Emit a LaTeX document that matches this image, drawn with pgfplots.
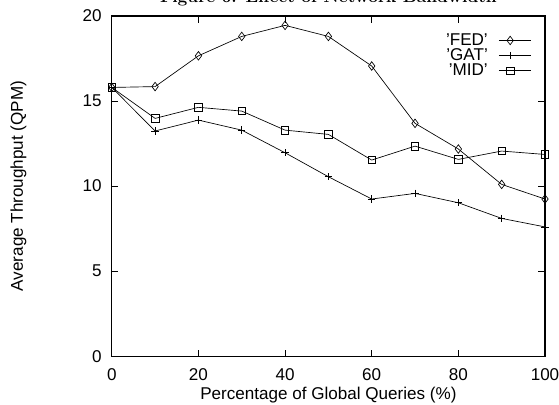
\documentclass[border=0pt]{standalone}
\usepackage{pgfplots}
\pgfplotsset{compat=1.18}
\usepackage{fontspec}
\setmainfont{Liberation Sans}
\newfontfamily\titlefont{Latin Modern Roman}

\begin{document}
\begin{tikzpicture}
\begin{axis}[
    name=main,
    scale only axis,
    width=324.75pt, height=255pt,
    xmin=0, xmax=100, ymin=0, ymax=20,
    xtick={0,20,40,60,80,100},
    ytick={0,5,10,15,20},
    tick align=inside,
    major tick length=5pt,
    tick style={black, line width=0.6pt},
    axis line style={line width=0.8pt},
    font=\fontsize{12.8}{15}\selectfont,
    /pgf/number format/assume math mode=true,
    xticklabel style={yshift=-6pt},
    yticklabel style={xshift=-4pt},
    xlabel={Percentage of Global Queries (\%)},
    ylabel={Average Throughput (QPM)},
    xlabel style={at={(axis description cs:0.5,0)}, anchor=center, yshift=-29pt},
    ylabel style={at={(axis description cs:-0.2155,0.5)}, anchor=center},
    legend style={draw=none, fill=none, at={(rel axis cs:1,1)}, anchor=north east,
        xshift=-7pt, yshift=-9pt, font=\fontsize{12.8}{15}\selectfont,
        row sep=-3pt, /tikz/every odd column/.append style={column sep=6pt}},
    legend cell align=right,
    legend plot pos=right,
    legend image code/.code={
        \draw[mark repeat=2, mark phase=2, #1]
            plot coordinates {(0cm,0cm) (0.3cm,0cm) (0.85cm,0cm)};},
    every axis plot/.append style={black, line width=0.5pt},
]
\addplot[mark=diamond, mark size=3.2pt, mark options={solid, fill=white}] coordinates {
    (0,15.8) (10,15.85) (20,17.66) (30,18.8) (40,19.45) (50,18.8)
    (60,17.06) (70,13.69) (80,12.18) (90,10.1) (100,9.24)
};
\addlegendentry{'FED'}
\addplot[mark=+, mark size=2.8pt] coordinates {
    (0,15.8) (10,13.24) (20,13.88) (30,13.29) (40,11.96) (50,10.55)
    (60,9.24) (70,9.57) (80,9.02) (90,8.1) (100,7.6)
};
\addlegendentry{'GAT'}
\addplot[mark=square, mark size=2.8pt, mark options={solid, fill=white}] coordinates {
    (0,15.8) (10,13.98) (20,14.63) (30,14.41) (40,13.29) (50,13.04)
    (60,11.53) (70,12.35) (80,11.57) (90,12.06) (100,11.86)
};
\addlegendentry{'MID'}
\end{axis}
\node[anchor=base, font=\titlefont\bfseries\fontsize{13}{15}\selectfont]
    at ([yshift=10.5pt]main.north) {Figure 6: Effect of Network Bandwidth};
\pgfresetboundingbox
\path[use as bounding box]
    ([xshift=-83.8pt, yshift=-36pt]main.south west)
    rectangle ([xshift=10.5pt, yshift=12pt]main.north east);
\end{tikzpicture}
\end{document}
